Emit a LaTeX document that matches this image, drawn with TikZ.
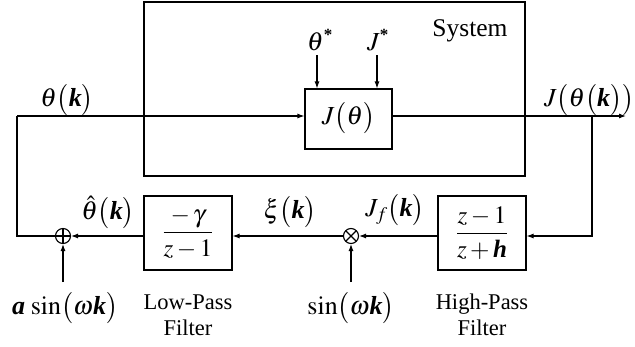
\documentclass[tikz,border=0pt]{standalone}
\usepackage{mathptmx}
\usepackage{fontspec}
\setmainfont{Liberation Serif}
\usetikzlibrary{arrows.meta}
\newcommand{\kb}{\textbf{\textit{k}}}
\newcommand{\ab}{\textbf{\textit{a}}}
\newcommand{\hb}{\textbf{\textit{h}}}
\newcommand{\bstar}{\mbox{\fontsize{17}{17}\selectfont\bfseries *}}
\tikzset{
  wire/.style={line width=1.1pt},
  arr/.style={wire,-{Latex[length=7pt,width=5pt]}},
  blk/.style={draw,line width=1.1pt,inner sep=0pt,minimum width=88pt,minimum height=74pt,font=\fontsize{25}{29}\selectfont},
  lbl/.style={inner sep=0pt,font=\fontsize{26}{30}\selectfont},
  txt/.style={inner sep=0pt,align=center,font=\rmfamily\fontsize{22.5}{26}\selectfont},
  sumnode/.style={circle,draw,line width=1.1pt,minimum size=15pt,inner sep=0pt,
    path picture={\draw[line width=1.1pt] (path picture bounding box.north) -- (path picture bounding box.south)
      (path picture bounding box.west) -- (path picture bounding box.east);}},
  mulnode/.style={circle,draw,line width=1.1pt,minimum size=15pt,inner sep=0pt,
    path picture={\draw[line width=1.1pt] (path picture bounding box.north west) -- (path picture bounding box.south east)
      (path picture bounding box.south west) -- (path picture bounding box.north east);}}
}
\begin{document}
\begin{tikzpicture}[x=1pt,y=-1pt]
\useasboundingbox (0,0) rectangle (635,346);
% system box
\node[draw,line width=1.1pt,minimum width=381pt,minimum height=174pt,inner sep=0pt] (sys) at (334.5,89) {};
\node[txt,font=\rmfamily\fontsize{25.5}{28}\selectfont] (syslbl) at (470,31) {System};
\node[draw,line width=1.1pt,inner sep=0pt,minimum width=87pt,minimum height=60pt] (J) at (348.5,119) {};
\node[lbl] (Jt) at (348.5,118) {$J\bigl(\theta\bigr)$};
\node[lbl] (ts) at (320,40) {$\theta^{\bstar}$};
\node[lbl] (js) at (378,40) {$J^{\bstar}$};
\coordinate (tsa) at (317,55);
\coordinate (jsa) at (377,55);
\draw[arr] (tsa) -- (tsa |- J.north);
\draw[arr] (jsa) -- (jsa |- J.north);
% loop coordinates
\coordinate (lt) at (17,116);
\coordinate (lb) at (17,236);
\coordinate (rt) at (592,116);
\coordinate (rb) at (592,236);
\coordinate (out) at (626,116);
\draw[arr] (lt) -- (lt -| J.west);
\draw[arr] (lt -| J.east) -- (out);
\node[lbl] (thk) at (67,100) {$\theta\bigl(\kb\bigr)$};
\node[lbl] (jtk) at (589,100) {$J\bigl(\theta\bigl(\kb\bigr)\bigr)$};
% bottom path
\node[blk] (hpf) at (482,233) {$\displaystyle\frac{z-1}{z+\hb}$};
\node[blk] (lpf) at (188,233) {$\displaystyle\frac{-\,\gamma}{z-1}$};
\node[mulnode] (mul) at (351,236) {};
\node[sumnode] (sum) at (63,236) {};
\draw[arr] (rt) -- (rb) -- (rb -| hpf.east);
\draw[arr] (rb -| hpf.west) -- (mul);
\draw[arr] (mul) -- (rb -| lpf.east);
\draw[arr] (rb -| lpf.west) -- (sum);
\draw[wire] (sum) -- (lb) -- (lt);
\coordinate (sinin) at (351,282);
\coordinate (asinin) at (63,282);
\draw[arr] (sinin) -- (mul);
\draw[arr] (asinin) -- (sum);
\node[lbl] (sinl) at (351,308) {$\sin\bigl(\omega\kb\bigr)$};
\node[lbl] (asinl) at (65,308) {$\ab\,\sin\bigl(\omega\kb\bigr)$};
\node[lbl] (thh) at (108,212) {$\hat{\theta}\bigl(\kb\bigr)$};
\node[lbl] (xil) at (290,212) {$\xi\bigl(\kb\bigr)$};
\node[lbl] (jfl) at (395,210) {$J_{f}\bigl(\kb\bigr)$};
\node[txt] (lpl) at (188,315) {Low-Pass\\Filter};
\node[txt] (hpl) at (482,315) {High-Pass\\Filter};
\end{tikzpicture}
\end{document}
